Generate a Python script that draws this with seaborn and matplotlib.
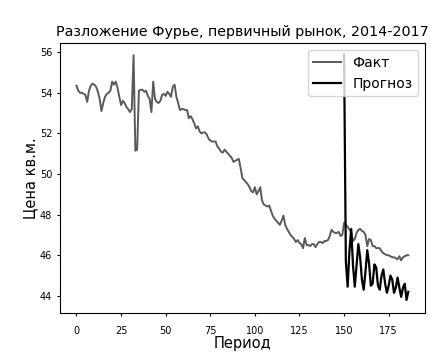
import pandas as pd
import numpy as np
import seaborn as sns
from matplotlib import pyplot as plt

# fact series, period 0..186
fact = [
    54.35, 54.10, 54.00, 54.00, 53.95, 53.90, 53.55, 54.10, 54.35, 54.45,
    54.40, 54.30, 54.05, 53.70, 53.10, 53.50, 53.80, 53.95, 54.00, 54.10,
    54.55, 54.40, 54.55, 54.25, 53.80, 53.40, 53.60, 53.50, 53.30, 53.20,
    53.05, 53.20, 55.85, 51.15, 51.20, 54.10, 54.15, 54.15, 54.05, 54.10,
    53.85, 53.70, 53.05, 54.55, 53.70, 53.55, 53.50, 53.60, 53.90, 53.95,
    53.85, 54.05, 53.95, 53.80, 54.30, 54.40, 53.80, 53.50, 53.15, 53.20,
    53.20, 53.15, 53.15, 52.75, 52.85, 52.70, 52.50, 52.25, 52.35, 52.10,
    52.00, 52.05, 52.05, 51.95, 51.75, 51.65, 51.60, 51.60, 51.60, 51.35,
    51.25, 51.10, 51.05, 51.20, 51.10, 51.00, 50.90, 50.80, 50.60, 50.65,
    50.70, 50.75, 50.30, 49.80, 49.70, 49.60, 49.50, 49.35, 49.15, 49.10,
    49.35, 49.00, 49.15, 49.35, 48.70, 48.50, 48.45, 48.40, 48.45, 48.20,
    47.95, 47.80, 47.70, 47.60, 47.50, 47.70, 47.95, 47.50, 47.30, 47.15,
    47.00, 46.90, 46.80, 46.65, 46.75, 46.60, 46.55, 46.35, 46.85, 46.50,
    46.50, 46.45, 46.55, 46.55, 46.40, 46.55, 46.65, 46.65, 46.60, 46.70,
    46.70, 46.75, 46.95, 47.25, 47.15, 47.10, 47.10, 47.15, 46.95, 47.00,
    47.60, 47.50, 47.40, 47.25, 47.15, 46.70, 46.80, 47.10, 47.25, 47.30,
    47.20, 47.15, 47.00, 46.45, 46.80, 46.75, 46.45, 46.45, 46.35, 46.35,
    46.35, 46.20, 46.10, 46.05, 46.00, 46.00, 45.95, 45.90, 45.90, 45.85,
    45.80, 45.95, 45.75, 45.90, 45.95, 46.00, 46.00,
]

# forecast, period 150..186
forecast_start = 150
forecast = [
    55.90, 45.70, 44.45, 46.20, 47.30, 45.50, 44.45, 45.50, 46.55, 45.90,
    44.80, 44.30, 45.20, 46.25, 45.60, 44.50, 44.60, 45.55, 45.40, 44.50,
    44.30, 45.00, 45.30, 44.60, 44.15, 44.50, 45.00, 44.80, 44.15, 44.40,
    44.90, 44.40, 43.95, 44.40, 44.60, 43.80, 44.20,
]

df_fact = pd.DataFrame({"Период": range(len(fact)), "Цена": fact})
df_fc = pd.DataFrame({"Период": range(forecast_start, forecast_start + len(forecast)),
                      "Цена": forecast})


def main():
    plt.rcParams["font.family"] = "DejaVu Sans"
    fig, ax = plt.subplots(figsize=(4.34, 3.53), dpi=100)
    fig.subplots_adjust(left=0.138, right=0.979, top=0.878, bottom=0.113)

    sns.lineplot(data=df_fact, x="Период", y="Цена", color="#5a5a5a", lw=1.4,
                 label="Факт", ax=ax)
    sns.lineplot(data=df_fc, x="Период", y="Цена", color="black", lw=1.6,
                 label="Прогноз", ax=ax)

    ax.set_xticks([0, 25, 50, 75, 100, 125, 150, 175])
    ax.set_yticks([44, 46, 48, 50, 52, 54, 56])
    ax.set_ylim(43.15, 56.45)
    ax.tick_params(axis="both", labelsize=7, length=2.5, width=0.8)
    ax.tick_params(axis="x", pad=7)
    ax.tick_params(axis="y", pad=3)

    ax.set_title("Разложение Фурье, первичный рынок, 2014-2017", fontsize=10.3, pad=5)
    ax.set_xlabel("Период", fontsize=10.5, labelpad=0)
    ax.set_ylabel("Цена кв.м.", fontsize=10.5, labelpad=1)
    ax.legend(loc="upper right", fontsize=10, handlelength=2.0)

    plt.savefig("out.png")


if __name__ == "__main__":
    main()
